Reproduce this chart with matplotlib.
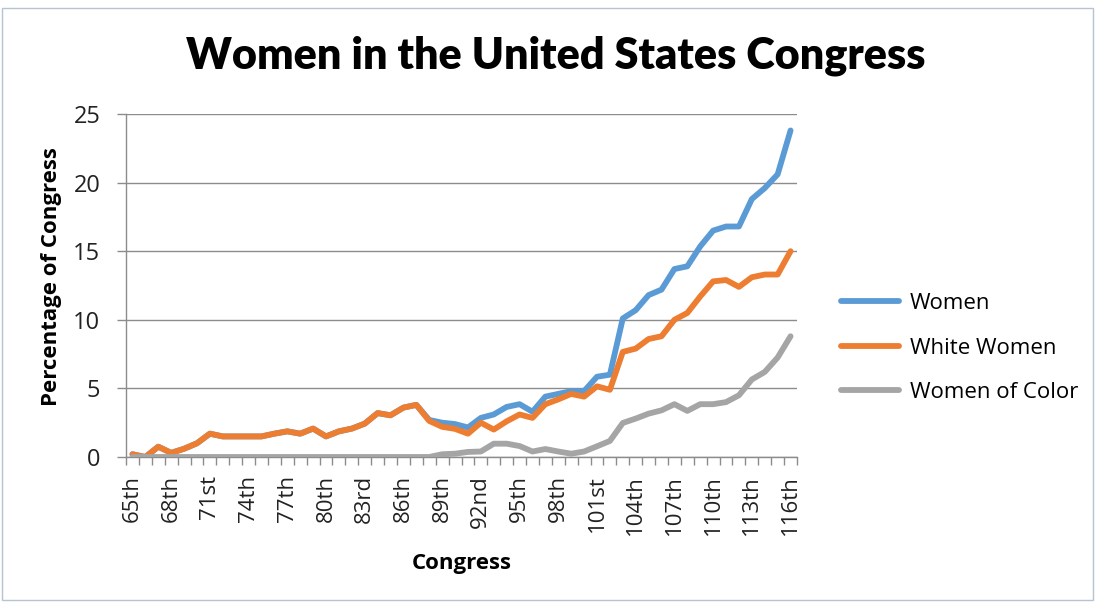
import matplotlib
matplotlib.use("Agg")
import matplotlib.pyplot as plt
from matplotlib.patches import Rectangle
from matplotlib import font_manager as fm

congresses = ["65th", "66th", "67th", "68th", "69th", "70th", "71st", "72nd", "73rd", "74th",
              "75th", "76th", "77th", "78th", "79th", "80th", "81st", "82nd", "83rd", "84th",
              "85th", "86th", "87th", "88th", "89th", "90th", "91st", "92nd", "93rd", "94th",
              "95th", "96th", "97th", "98th", "99th", "100th", "101st", "102nd", "103rd", "104th",
              "105th", "106th", "107th", "108th", "109th", "110th", "111th", "112th", "113th", "114th",
              "115th", "116th"]

women = [0.2, 0.0, 0.75, 0.3, 0.6, 1.0, 1.7, 1.5, 1.5, 1.5,
         1.5, 1.7, 1.87, 1.7, 2.07, 1.5, 1.87, 2.07, 2.43, 3.2,
         3.04, 3.6, 3.8, 2.7, 2.5, 2.4, 2.15, 2.85, 3.1, 3.65,
         3.85, 3.3, 4.4, 4.6, 4.8, 4.8, 5.85, 6.0, 10.1, 10.7,
         11.8, 12.2, 13.7, 13.9, 15.35, 16.5, 16.8, 16.8, 18.8, 19.6,
         20.6, 23.8]

white_women = [0.2, 0.0, 0.75, 0.3, 0.6, 1.0, 1.7, 1.5, 1.5, 1.5,
               1.5, 1.7, 1.87, 1.7, 2.07, 1.5, 1.87, 2.07, 2.43, 3.2,
               3.04, 3.6, 3.8, 2.63, 2.2, 2.05, 1.7, 2.5, 2.0, 2.6,
               3.1, 2.85, 3.85, 4.2, 4.6, 4.4, 5.15, 4.9, 7.66, 7.9,
               8.6, 8.8, 10.0, 10.5, 11.7, 12.8, 12.9, 12.4, 13.1, 13.3,
               13.3, 15.0]

women_of_color = [0, 0, 0, 0, 0, 0, 0, 0, 0, 0,
                  0, 0, 0, 0, 0, 0, 0, 0, 0, 0,
                  0, 0, 0, 0, 0.2, 0.24, 0.37, 0.4, 0.97, 0.97,
                  0.8, 0.4, 0.58, 0.4, 0.24, 0.4, 0.78, 1.17, 2.48, 2.8,
                  3.16, 3.4, 3.85, 3.36, 3.85, 3.85, 4.0, 4.5, 5.65, 6.2,
                  7.25, 8.8]

series_names = ["Women", "White Women", "Women of Color"]
colors = ["#5B9BD5", "#ED7D31", "#A5A5A5"]
y_ticks = [0, 5, 10, 15, 20, 25]

avail = {f.name for f in fm.fontManager.ttflist}
body_font = "Open Sans" if "Open Sans" in avail else "DejaVu Sans"
title_font = "Lato" if "Lato" in avail else "DejaVu Sans"

W, H = 1096, 602
fig = plt.figure(figsize=(W / 100, H / 100), dpi=100)
fig.patch.set_facecolor("white")
fig.add_artist(Rectangle((2 / W, 2 / H), (W - 5) / W, (H - 10) / H, transform=fig.transFigure,
                         fill=False, edgecolor="#B7C4D0", linewidth=1.0))

ax = fig.add_axes([126 / W, 1 - 457 / H, (797 - 126) / W, (457 - 114) / H])
x = list(range(len(congresses)))
for vals, name, c in zip([women, white_women, women_of_color], series_names, colors):
    ax.plot(x, vals, color=c, linewidth=4.2, label=name, solid_joinstyle="round",
            solid_capstyle="round", zorder=3)

ax.set_xlim(-0.5, len(congresses) - 0.5)
ax.set_ylim(0, 25)
ax.set_yticks(y_ticks)
ax.set_yticklabels([str(v) for v in y_ticks], fontsize=17, family=body_font, color="#222222")
ax.yaxis.grid(True, color="#8C8C8C", linewidth=1.0, zorder=0)
ax.set_axisbelow(True)

ax.set_xticks(x[::3])
ax.set_xticklabels(congresses[::3], rotation=90, fontsize=16, family=body_font, color="#222222")
ax.set_xticks([i - 0.5 for i in range(len(congresses) + 1)], minor=True)
ax.tick_params(axis="x", which="major", length=0, pad=13)
ax.tick_params(axis="x", which="minor", length=6, width=1, color="#8C8C8C", direction="out")
ax.tick_params(axis="y", length=6.5, width=1, color="#8C8C8C", direction="out", pad=12)

for s in ["top", "right"]:
    ax.spines[s].set_visible(False)
for s in ["left", "bottom"]:
    ax.spines[s].set_color("#8C8C8C")
    ax.spines[s].set_linewidth(1.0)

ax.set_xlabel("Congress", fontsize=16, fontweight="bold", family=body_font, labelpad=13)
ax.set_ylabel("Percentage of Congress", fontsize=16, fontweight="bold", family=body_font, labelpad=8)
ax.yaxis.label.set_y(0.525)

title = fig.text(556 / W, 1 - 56 / H, "Women in the United States Congress", ha="center", va="center",
                 fontsize=30, fontweight="heavy", family=title_font, color="black")
fig.canvas.draw()
bb = title.get_window_extent()
title.set_fontsize(30 * 738 / bb.width)

leg = ax.legend(loc="center left", bbox_to_anchor=(821 / W, 1 - 348 / H), bbox_transform=fig.transFigure,
                frameon=False, handlelength=2.6, handletextpad=0.5, labelspacing=1.05,
                prop={"family": body_font, "size": 16})

fig.savefig("out.png", dpi=100, facecolor="white")
